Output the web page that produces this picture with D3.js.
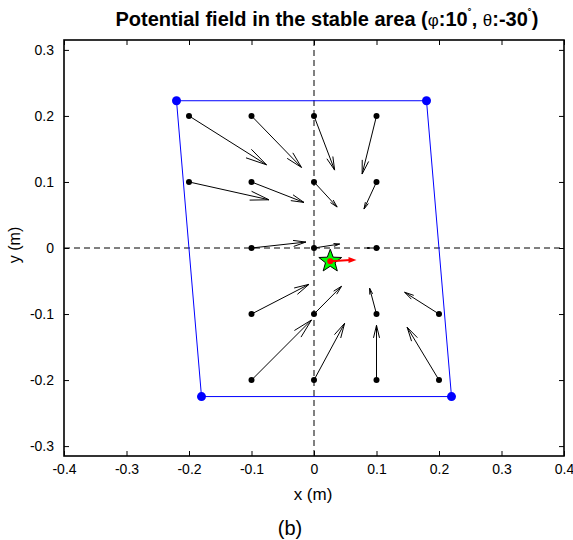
<!DOCTYPE html>
<html>
<head>
<meta charset="utf-8">
<script src="https://cdn.jsdelivr.net/npm/d3@7"></script>
<style>
  body { margin: 0; background: #fff; }
  svg text { font-family: "Liberation Sans", Arial, sans-serif; }
</style>
</head>
<body>
<div id="chart"></div>
<script>
// Axis ticks
const xTicks = [-0.4, -0.3, -0.2, -0.1, 0, 0.1, 0.2, 0.3, 0.4];
const yTicks = [-0.3, -0.2, -0.1, 0, 0.1, 0.2, 0.3];

// Field sample points and their vectors (u, v)
const arrowX = [-0.2, -0.1, 0, 0.1,   -0.2, -0.1, 0, 0.1,   -0.1, 0, 0.1,   -0.1, 0, 0.1, 0.2,   -0.1, 0, 0.1, 0.2];
const arrowY = [0.2, 0.2, 0.2, 0.2,   0.1, 0.1, 0.1, 0.1,   0, 0, 0,   -0.1, -0.1, -0.1, -0.1,   -0.2, -0.2, -0.2, -0.2];
const arrowU = [0.124, 0.080, 0.033, -0.023,   0.128, 0.084, 0.037, -0.020,   0.087, 0.041, -0.015,   0.092, 0.044, -0.011, -0.055,   0.096, 0.049, 0.000, -0.051];
const arrowV = [-0.074, -0.078, -0.082, -0.088,   -0.027, -0.031, -0.038, -0.041,   0.009, 0.006, 0.000,   0.045, 0.042, 0.039, 0.033,   0.091, 0.086, 0.083, 0.080];

// Stable area corners
const cornerX = [-0.22, 0.18, 0.22, -0.18];
const cornerY = [0.223, 0.223, -0.225, -0.225];

// Current position and heading
const starX = 0.026, starY = -0.02;
const headU = 0.042, headV = 0.002;

const width = 573, height = 540;
const margin = { top: 40, right: 9, bottom: 84, left: 64 };

const svg = d3.select("#chart").append("svg")
    .attr("width", width)
    .attr("height", height);

const x = d3.scaleLinear().domain([-0.4, 0.4]).range([margin.left, width - margin.right]);
const y = d3.scaleLinear().domain([-0.315, 0.315]).range([height - margin.bottom, margin.top]);

const fmt = d => d === 0 ? "0" : d.toFixed(1);

// Axes with inward ticks on all four sides
svg.append("g")
    .attr("transform", "translate(0," + y.range()[0] + ")")
    .call(d3.axisBottom(x).tickValues(xTicks).tickFormat(fmt).tickSizeInner(-5).tickSizeOuter(0).tickPadding(8))
    .call(g => g.select(".domain").remove());
svg.append("g")
    .attr("transform", "translate(0," + y.range()[1] + ")")
    .call(d3.axisTop(x).tickValues(xTicks).tickFormat("").tickSizeInner(-5).tickSizeOuter(0))
    .call(g => g.select(".domain").remove());
svg.append("g")
    .attr("transform", "translate(" + x.range()[0] + ",0)")
    .call(d3.axisLeft(y).tickValues(yTicks).tickFormat(fmt).tickSizeInner(-5).tickSizeOuter(0).tickPadding(10))
    .call(g => g.select(".domain").remove());
svg.append("g")
    .attr("transform", "translate(" + x.range()[1] + ",0)")
    .call(d3.axisRight(y).tickValues(yTicks).tickFormat("").tickSizeInner(-5).tickSizeOuter(0))
    .call(g => g.select(".domain").remove());

svg.selectAll(".tick text")
    .attr("font-size", 14)
    .attr("fill", "#000")
    .style("font-family", "'Liberation Sans', Arial, sans-serif");
svg.selectAll(".tick line").attr("stroke", "#000");

// Dashed zero lines
svg.append("line")
    .attr("x1", x(0)).attr("x2", x(0))
    .attr("y1", y.range()[1]).attr("y2", y.range()[0])
    .attr("stroke", "#000").attr("stroke-dasharray", "6,4");
svg.append("line")
    .attr("x1", x.range()[0]).attr("x2", x.range()[1])
    .attr("y1", y(0)).attr("y2", y(0))
    .attr("stroke", "#000").attr("stroke-dasharray", "6,4");

// Stable area polygon
const corners = cornerX.map((cx, i) => [x(cx), y(cornerY[i])]);
svg.append("path")
    .attr("d", "M" + corners.join("L") + "Z")
    .attr("fill", "none")
    .attr("stroke", "#0000ff")
    .attr("stroke-width", 1);

// Quiver arrows
const arrowPath = function(x0, y0, x1, y1, head, half) {
    const dx = x1 - x0, dy = y1 - y0;
    const len = Math.hypot(dx, dy);
    if (len === 0) return "";
    const ux = dx / len, uy = dy / len;
    const h = head * len, w = half * len;
    const bx = x1 - ux * h, by = y1 - uy * h;
    return "M" + x0 + "," + y0 + "L" + x1 + "," + y1 +
        "M" + (bx - uy * w) + "," + (by + ux * w) + "L" + x1 + "," + y1 +
        "L" + (bx + uy * w) + "," + (by - ux * w);
};

svg.selectAll(".arrow")
    .data(arrowX)
    .enter().append("path")
    .attr("class", "arrow")
    .attr("d", (d, i) => arrowPath(x(d), y(arrowY[i]), x(d + arrowU[i]), y(arrowY[i] + arrowV[i]), 0.23, 0.055))
    .attr("fill", "none")
    .attr("stroke", "#000")
    .attr("stroke-width", 1);

svg.selectAll(".dot")
    .data(arrowX)
    .enter().append("circle")
    .attr("class", "dot")
    .attr("cx", d => x(d))
    .attr("cy", (d, i) => y(arrowY[i]))
    .attr("r", 3)
    .attr("fill", "#000");

svg.selectAll(".corner")
    .data(corners)
    .enter().append("circle")
    .attr("class", "corner")
    .attr("cx", d => d[0])
    .attr("cy", d => d[1])
    .attr("r", 4.5)
    .attr("fill", "#0000ff");

// Star marker with heading arrow
const sx = x(starX), sy = y(starY);
const starPts = d3.range(10).map(k => {
    const r = k % 2 === 0 ? 12 : 5;
    const a = -Math.PI / 2 + k * Math.PI / 5;
    return [sx + r * Math.cos(a), sy + r * Math.sin(a)];
});
svg.append("path")
    .attr("d", "M" + starPts.join("L") + "Z")
    .attr("fill", "#00ff00")
    .attr("stroke", "#000")
    .attr("stroke-width", 1);

const hx = x(starX + headU), hy = y(starY + headV);
svg.append("line")
    .attr("x1", sx).attr("y1", sy)
    .attr("x2", hx - 6).attr("y2", hy)
    .attr("stroke", "#ff0000").attr("stroke-width", 2);
svg.append("path")
    .attr("d", "M" + hx + "," + hy + "L" + (hx - 8) + "," + (hy - 3) + "L" + (hx - 8) + "," + (hy + 3) + "Z")
    .attr("fill", "#ff0000");
svg.append("circle")
    .attr("cx", sx).attr("cy", sy).attr("r", 3)
    .attr("fill", "#ff0000");

// Plot frame
svg.append("rect")
    .attr("x", x.range()[0]).attr("y", y.range()[1])
    .attr("width", x.range()[1] - x.range()[0])
    .attr("height", y.range()[0] - y.range()[1])
    .attr("fill", "none")
    .attr("stroke", "#000")
    .attr("stroke-width", 1.6);

// Title
const title = svg.append("text")
    .attr("x", 327)
    .attr("y", 26)
    .attr("text-anchor", "middle")
    .attr("font-size", 20)
    .attr("font-weight", "bold");
title.append("tspan").text("Potential field in the stable area (");
title.append("tspan").attr("font-weight", "normal").attr("font-size", 17).text("\u03c6");
title.append("tspan").text(":10");
title.append("tspan").attr("dy", -8).attr("font-size", 12).text("\u02da");
title.append("tspan").attr("dy", 8).text(", ");
title.append("tspan").attr("font-weight", "normal").attr("font-size", 17).text("\u03b8");
title.append("tspan").text(":-30");
title.append("tspan").attr("dy", -8).attr("font-size", 12).text("\u02da");
title.append("tspan").attr("dy", 8).text(")");

// Axis labels
svg.append("text")
    .attr("x", 313)
    .attr("y", 500)
    .attr("text-anchor", "middle")
    .attr("font-size", 17)
    .text("x (m)");

svg.append("text")
    .attr("transform", "translate(20,245) rotate(-90)")
    .attr("text-anchor", "middle")
    .attr("font-size", 16)
    .text("y (m)");

svg.append("text")
    .attr("x", 290)
    .attr("y", 535)
    .attr("text-anchor", "middle")
    .attr("font-size", 20)
    .text("(b)");
</script>
</body>
</html>
